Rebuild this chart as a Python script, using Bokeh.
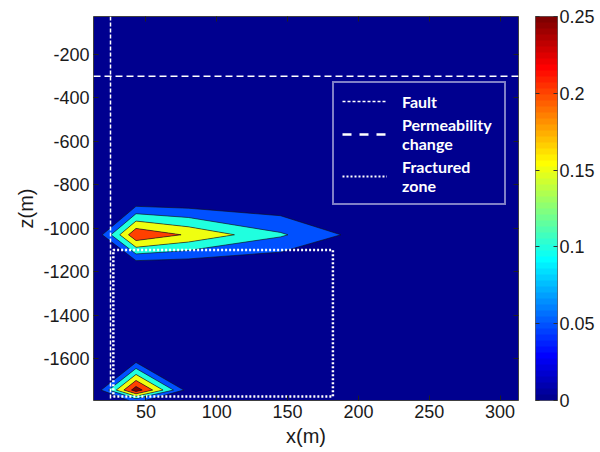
import numpy as np
from bokeh.plotting import figure
from bokeh.models import (Span, Legend, LegendItem, FixedTicker, LinearAxis,
                          LinearColorMapper)
from bokeh.layouts import row
from bokeh.embed import file_html
from bokeh.resources import INLINE

# ---------------- data ----------------
x_nodes = [13, 43, 80, 145, 225, 313]                 # x (m)
z_nodes = [-1793, -1745, -1590, -1180, -1030, -865, -25]  # z (m)
conc_row_1793 = [0.0, 0.06, 0.0, 0.0, 0.0, 0.0]
conc_row_1745 = [0.0, 0.28, 0.028, 0.0, 0.0, 0.0]
conc_row_1590 = [0.0, 0.0, 0.0, 0.0, 0.0, 0.0]
conc_row_1180 = [0.0, 0.0, 0.0, 0.0, 0.0, 0.0]
conc_row_1030 = [0.0, 0.243, 0.193, 0.107, 0.0, 0.0]
conc_row_865 = [0.0, 0.0, 0.0, 0.0, 0.0, 0.0]
conc_row_25 = [0.0, 0.0, 0.0, 0.0, 0.0, 0.0]

contour_levels = [0.05, 0.10, 0.15, 0.20, 0.25, 1.0]
cbar_low, cbar_high = 0.0, 0.25
cbar_ticks = [0, 0.05, 0.1, 0.15, 0.2, 0.25]
cbar_tick_labels = ["0", "0.05", "0.1", "0.15", "0.2", "0.25"]

x_ticks = [50, 100, 150, 200, 250, 300]
z_ticks = [-1600, -1400, -1200, -1000, -800, -600, -400, -200]
z_tick_labels = ["-1600", "-1400", "-1200", "-1000", "-800", "-600", "-400", "-200"]

fault_x = 25
perm_z = -300
frac_x = [27, 182]
frac_z = [-1775, -1100]

x_lim = (13, 313)
z_lim = (-1793, -25)

legend_labels = ["Fault", "Permeability\nchange", "Fractured\nzone"]

# ---------------- jet colormap (MATLAB jet(64)) ----------------
def jet(n=64):
    cols = []
    for i in range(n):
        if i <= 7:
            b = (9 + i) / 16
        elif i <= 22:
            b = 1.0
        elif i <= 38:
            b = (39 - i) / 16
        else:
            b = 0.0
        if i <= 7:
            g = 0.0
        elif i <= 23:
            g = (i - 7) / 16
        elif i <= 38:
            g = 1.0
        elif i <= 54:
            g = (55 - i) / 16
        else:
            g = 0.0
        if i <= 23:
            r = 0.0
        elif i <= 39:
            r = (i - 23) / 16
        elif i <= 54:
            r = 1.0
        else:
            r = (71 - i) / 16
        cols.append("#%02x%02x%02x" % (round(r * 255), round(g * 255), round(b * 255)))
    return cols

JET = jet(64)
def jet_color(v):
    idx = int(np.floor((v - cbar_low) / (cbar_high - cbar_low) * 64))
    return JET[max(0, min(63, idx))]

band_colors = [jet_color(v) for v in contour_levels[:-1]]
navy = JET[0]

Z = np.array([conc_row_1793, conc_row_1745, conc_row_1590, conc_row_1180,
              conc_row_1030, conc_row_865, conc_row_25])

TICK_FONT = "Liberation Sans"
TICK_COLOR = "#1a1a1a"

# ---------------- main figure ----------------
p = figure(width=528, height=452, min_border_left=93, min_border_right=10,
           min_border_top=16, min_border_bottom=52,
           x_range=x_lim, y_range=z_lim, toolbar_location=None,
           output_backend="svg")
p.background_fill_color = navy
p.border_fill_color = "white"
p.grid.visible = False
p.outline_line_color = "#404040"
p.outline_line_width = 1

p.contour(x=x_nodes, y=z_nodes, z=Z, levels=contour_levels,
          fill_color=band_colors, line_color="#101010", line_width=0.6)

p.add_layout(Span(location=fault_x, dimension="height", line_color="white",
                  line_dash="4 2", line_width=1.5))
p.add_layout(Span(location=perm_z, dimension="width", line_color="white",
                  line_dash="7 4", line_width=1.5))
p.line(x=[frac_x[0], frac_x[1], frac_x[1], frac_x[0], frac_x[0]],
       y=[frac_z[0], frac_z[0], frac_z[1], frac_z[1], frac_z[0]],
       line_color="white", line_dash="2 2", line_width=2.5)

# axes
for ax in (p.xaxis[0], p.yaxis[0]):
    ax.axis_line_color = None
    ax.major_tick_in = 5
    ax.major_tick_out = 0
    ax.minor_tick_line_color = None
    ax.major_tick_line_color = "#202020"
    ax.major_label_text_font = TICK_FONT
    ax.major_label_text_font_size = "18px"
    ax.major_label_text_color = TICK_COLOR
    ax.axis_label_text_font = TICK_FONT
    ax.axis_label_text_font_style = "normal"
    ax.axis_label_text_color = TICK_COLOR
p.xaxis.ticker = FixedTicker(ticks=x_ticks)
p.yaxis.ticker = FixedTicker(ticks=z_ticks)
p.yaxis.major_label_overrides = {t: s for t, s in zip(z_ticks, z_tick_labels)}
p.xaxis.axis_label = "x(m)"
p.yaxis.axis_label = "z(m)"
p.xaxis.axis_label_text_font_size = "20px"
p.yaxis.axis_label_text_font_size = "20px"
p.xaxis.major_label_standoff = 4
p.xaxis.axis_label_standoff = 4
p.yaxis.major_label_standoff = 4
p.yaxis.axis_label_standoff = 3

for loc, tick in (("above", x_ticks), ("right", z_ticks)):
    ax = LinearAxis(ticker=FixedTicker(ticks=tick), axis_line_color=None,
                    major_tick_in=5, major_tick_out=0,
                    major_tick_line_color="#202020",
                    minor_tick_line_color=None,
                    major_label_text_font_size="1px",
                    major_label_text_color=None,
                    major_label_standoff=0)
    p.add_layout(ax, loc)

# legend (legend-only renderers with no visible data, styled like the overlay box)
r_fault = p.line(x=[np.nan], y=[np.nan], line_color="white", line_dash="3 2", line_width=1.5)
r_perm = p.line(x=[np.nan], y=[np.nan], line_color="white", line_dash="9 8", line_width=2.5)
r_frac = p.line(x=[np.nan], y=[np.nan], line_color="white", line_dash="2 2", line_width=2)
legend = Legend(items=[LegendItem(label=legend_labels[0], renderers=[r_fault]),
                       LegendItem(label=legend_labels[1], renderers=[r_perm]),
                       LegendItem(label=legend_labels[2], renderers=[r_frac])],
                location=(239, 195), margin=0, padding=8, spacing=4,
                glyph_width=45, label_standoff=15, label_width=94,
                label_text_font="Lato", label_text_font_style="bold",
                label_text_font_size="16px", label_text_color="white",
                border_line_color="white", border_line_width=2,
                background_fill_alpha=0)
p.add_layout(legend)

# ---------------- colour bar figure ----------------
p2 = figure(width=72, height=452, min_border_left=7, min_border_right=43,
            min_border_top=16, min_border_bottom=52,
            x_range=(0, 1), y_range=(cbar_low, cbar_high),
            x_axis_location=None, y_axis_location="right",
            toolbar_location=None, output_backend="svg")
p2.grid.visible = False
p2.outline_line_color = "#606060"
mapper = LinearColorMapper(palette=JET, low=cbar_low, high=cbar_high)
grad = np.linspace(cbar_low, cbar_high, len(JET)).reshape(-1, 1)
p2.image(image=[grad], x=0, y=cbar_low, dw=1, dh=cbar_high - cbar_low,
         color_mapper=mapper)
ya = p2.yaxis[0]
ya.ticker = FixedTicker(ticks=cbar_ticks)
ya.major_label_overrides = {t: s for t, s in zip(cbar_ticks, cbar_tick_labels)}
ya.axis_line_color = None
ya.major_tick_in = 4
ya.major_tick_out = 0
ya.major_tick_line_color = "#303030"
ya.minor_tick_line_color = None
ya.major_label_standoff = 2
ya.major_label_text_font = TICK_FONT
ya.major_label_text_font_size = "18px"
ya.major_label_text_color = TICK_COLOR
la = LinearAxis(ticker=FixedTicker(ticks=cbar_ticks), axis_line_color=None,
                major_tick_in=4, major_tick_out=0,
                major_tick_line_color="#303030", minor_tick_line_color=None,
                major_label_text_font_size="1px", major_label_text_color=None,
                major_label_standoff=0)
p2.add_layout(la, "left")

layout = row(p, p2)
open("out.html", "w").write(file_html(layout, INLINE))
